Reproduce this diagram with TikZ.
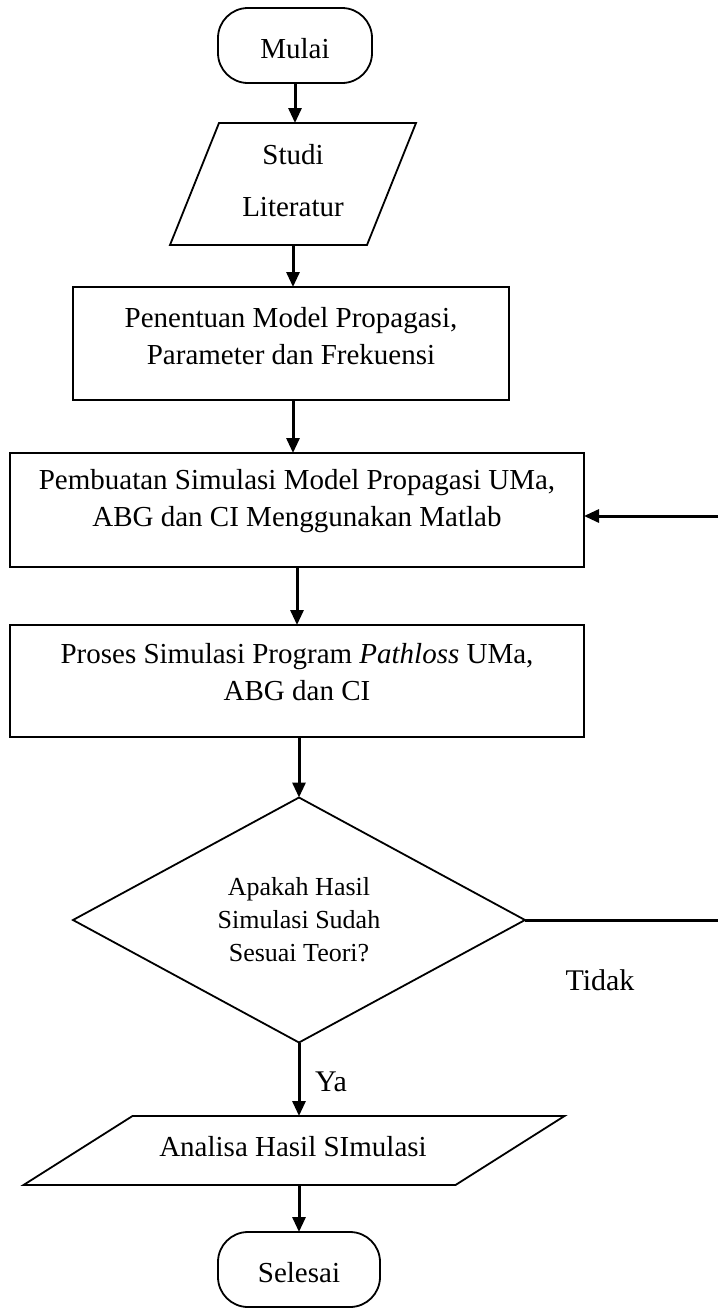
\documentclass[tikz,border=0pt]{standalone}
\usepackage{fontspec}
\setmainfont{Liberation Serif}
\usetikzlibrary{shapes.geometric,arrows.meta}
\tikzset{
  outline/.style={draw=black, line width=1.8pt},
  shapebox/.style={outline, rectangle, inner sep=0pt, outer sep=0pt},
  ghost/.style={rectangle, draw=none, inner sep=0pt, outer sep=0pt},
  txt/.style={align=center, inner sep=0pt, font=\fontsize{29}{37}\selectfont},
  smalltxt/.style={align=center, inner sep=0pt, font=\fontsize{26}{33}\selectfont},
  lbl/.style={inner sep=0pt, font=\fontsize{30}{36}\selectfont},
  arr/.style={line width=3pt, -{Triangle[length=15pt,width=13pt]}},
  plain/.style={line width=3pt}
}
\begin{document}
\begin{tikzpicture}[x=1pt,y=-1pt]
\useasboundingbox (0,0) rectangle (718,1310);
\fill[white] (0,0) rectangle (718,1310);

% Mulai
\node[shapebox, rounded corners=30pt, minimum width=154pt, minimum height=75pt] (mulai) at (295,45.5) {};
\node[txt] (tmulai) at (295,49) {Mulai};

% Studi Literatur
\node[ghost, minimum width=197pt, minimum height=122pt] (p1) at (293,184) {};
\draw[outline] ([xshift=24.5pt]p1.north west) -- ([xshift=24.5pt]p1.north east) -- ([xshift=-24.5pt]p1.south east) -- ([xshift=-24.5pt]p1.south west) -- cycle;
\node[txt] (tp1) at (293,181) {Studi\\[15pt]Literatur};

% Box 1
\node[shapebox, minimum width=436pt, minimum height=113pt] (b1) at (291,343.5) {};
\node[txt] (tb1) at (291,336.5) {Penentuan Model Propagasi,\\Parameter dan Frekuensi};

% Box 2
\node[shapebox, minimum width=574pt, minimum height=114pt] (b2) at (297,510) {};
\node[txt] (tb2) at (297,501.5) {Pembuatan Simulasi Model Propagasi UMa,\\ABG dan CI Menggunakan Matlab};

% Box 3
\node[shapebox, minimum width=574pt, minimum height=112pt] (b3) at (297,681) {};
\node[txt] (tb3) at (297,672.5) {Proses Simulasi Program \textit{Pathloss} UMa,\\ABG dan CI};

% Decision
\node[outline, diamond, inner sep=0pt, outer sep=0pt, minimum width=452pt, minimum height=245pt] (dia) at (299,920) {};
\node[smalltxt] (tdia) at (299,920) {Apakah Hasil\\Simulasi Sudah\\Sesuai Teori?};

% Analisa
\node[ghost, minimum width=432pt, minimum height=69pt] (p2) at (294,1150.5) {};
\draw[outline] ([xshift=54.5pt]p2.north west) -- ([xshift=54.5pt]p2.north east) -- ([xshift=-54.5pt]p2.south east) -- ([xshift=-54.5pt]p2.south west) -- cycle;
\node[txt] (tp2) at (293,1147) {Analisa Hasil SImulasi};

% Selesai
\node[shapebox, rounded corners=30pt, minimum width=162pt, minimum height=75pt] (sel) at (299,1269.5) {};
\node[txt] (tsel) at (299,1272.5) {Selesai};

% Labels
\node[lbl] (ya) at (331,1082) {Ya};
\node[lbl] (tidak) at (600,980) {Tidak};

% Connectors
\draw[arr] (mulai.south) -- (mulai.south |- p1.north);
\draw[arr] (p1.south) -- (p1.south |- b1.north);
\draw[arr] (b1.south -| p1.south) -- (p1.south |- b2.north);
\draw[arr] (b2.south) -- (b3.north);
\draw[arr] (b3.south -| dia.north) -- (dia.north);
\draw[arr] (dia.south) -- (dia.south |- p2.north);
\draw[arr] (p2.south -| sel.north) -- (sel.north);

% Feedback (Tidak)
\coordinate (r1) at (718,920);
\coordinate (r2) at (718,516);
\draw[plain] (dia.east) -- (r1);
\draw[arr] (r2) -- (b2.east |- r2);
\end{tikzpicture}
\end{document}
